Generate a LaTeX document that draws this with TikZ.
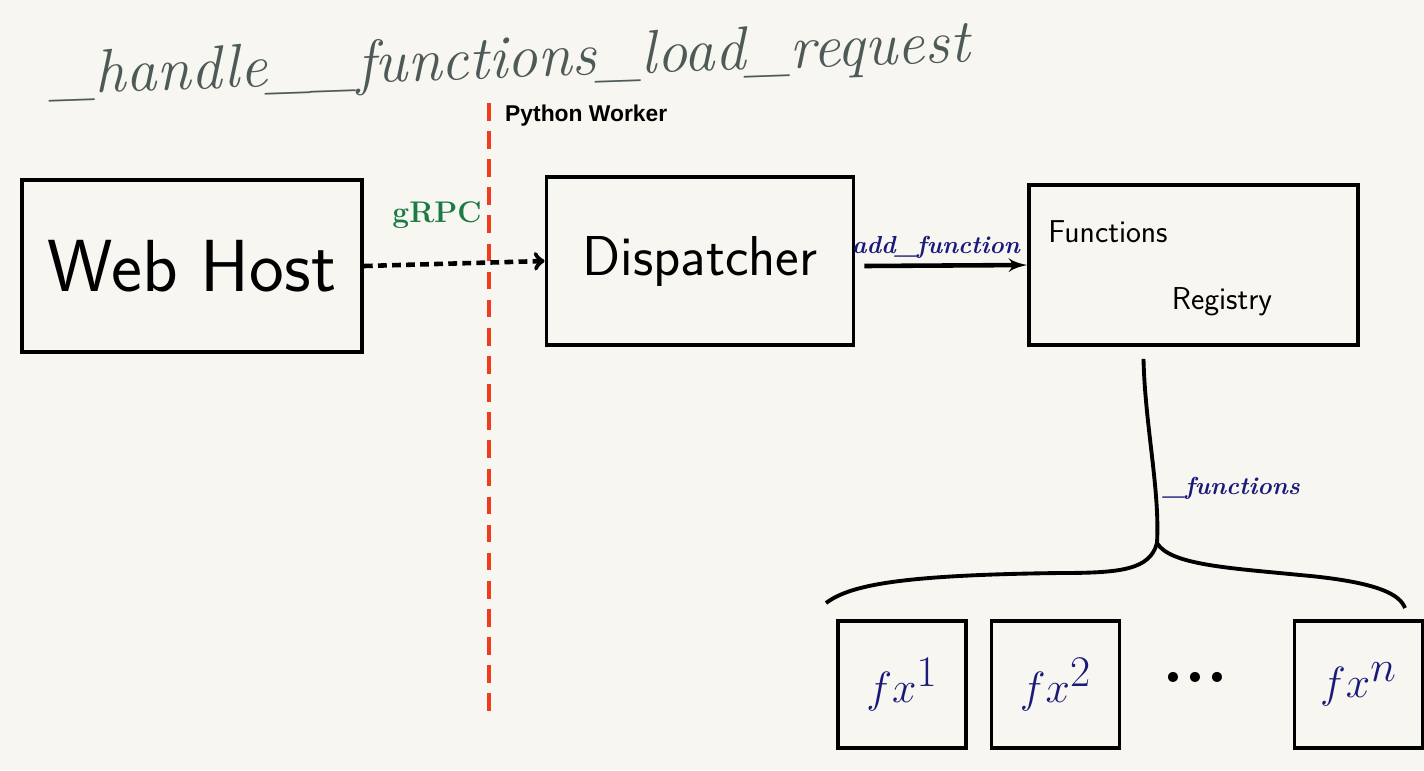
\documentclass[tikz,border=0pt]{standalone}
\usepackage{fontspec}
\newfontfamily\arialfont{Liberation Sans}
\usetikzlibrary{shapes,arrows}
\definecolor{paper}{HTML}{F8F6F1}
\definecolor{pencil}{HTML}{4D5A58}
\definecolor{grpcgreen}{HTML}{1B7B45}
\definecolor{inkblue}{HTML}{1A1A7A}
\definecolor{workerred}{HTML}{F03C1E}
\tikzstyle{block} = [rectangle, draw, line width=2.2pt, text centered, inner sep=0pt, font=\sffamily]
\tikzstyle{fxbox} = [rectangle, draw, line width=2.2pt, minimum width=2.56cm, minimum height=2.54cm, inner sep=0pt, text=inkblue, font=\fontsize{36}{36}\selectfont]
\tikzstyle{line} = [draw, line width=2.6pt, -latex']
\tikzstyle{dashline} = [draw, line width=2.6pt, dash pattern=on 5pt off 3pt, -to]
\tikzstyle{inklabel} = [text=inkblue, font=\itshape\bfseries\fontsize{14}{14}\selectfont]

\begin{document}
\begin{tikzpicture}[node distance=3.07cm,auto]
      \fill [paper] (0,0) rectangle (28.48,-15.4);
      \useasboundingbox (0,0) rectangle (28.48,-15.4);

      % title
      \node [text=pencil, rotate=2, font=\itshape\fontsize{35}{35}\selectfont] (title) at (10.2,-1.25) {\_handle\_\_functions\_load\_request};

      % worker boundary
      \draw [workerred, line width=2pt, dash pattern=on 10pt off 6pt] (9.78,-2.06) -- (9.78,-14.24);
      \node [anchor=west, font=\arialfont\bfseries\fontsize{13}{13}\selectfont] (worker) at (9.98,-2.32) {Python Worker};

      \node [block, minimum width=6.8cm, minimum height=3.44cm, font=\sffamily\fontsize{42}{42}\selectfont] (webhost) at (3.84,-5.32) {Web Host};
      \node [block, minimum width=6.14cm, minimum height=3.36cm, font=\sffamily\fontsize{32}{32}\selectfont] (dispatcher) at (14.0,-5.22) {Dispatcher};
      \node [block, minimum width=6.58cm, minimum height=3.2cm] (registry) at (23.87,-5.3) {};
      \node [anchor=west, font=\sffamily\fontsize{18}{18}\selectfont] (fnlabel) at ([xshift=0.3cm,yshift=0.66cm]registry.west) {Functions};
      \node [font=\sffamily\fontsize{18}{18}\selectfont] (reglabel) at ([xshift=0.57cm,yshift=-0.74cm]registry.center) {Registry};

      \path [dashline] (webhost.east) -- (dispatcher.west);
      \node [text=grpcgreen, font=\bfseries\fontsize{17}{17}\selectfont] (grpc) at (8.74,-4.3) {gRPC};
      \path [line] ([xshift=0.18cm,yshift=-0.1cm]dispatcher.east) -- (registry.west);
      \node [inklabel] (addfn) at (18.72,-4.95) {add\_function};

      % function boxes
      \node [fxbox] (fx1) at (18.04,-13.69) {$fx^1$};
      \node [fxbox, right of=fx1] (fx2) {$fx^2$};
      \node [fxbox, right of=fx2, node distance=6.06cm] (fxn) {$fx^n$};
      \node [font=\bfseries\fontsize{40}{40}\selectfont] (dots) at (23.9,-13.55) {...};

      % brace
      \coordinate (split) at (23.14,-10.86);
      \coordinate (bl) at (16.52,-12.06);
      \coordinate (br) at (28.1,-12.16);
      \draw [line width=2.2pt] ([xshift=-1cm,yshift=-0.24cm]registry.south) .. controls (22.9,-8.5) and (23.2,-9.8) .. (split);
      \draw [line width=2.2pt] (split) .. controls (23.0,-11.4) and (22.4,-11.46) .. (21.2,-11.46) .. controls (18.0,-11.5) and (17.0,-11.7) .. (bl);
      \draw [line width=2.2pt] (split) .. controls (23.4,-11.3) and (24.6,-11.36) .. (26.0,-11.5) .. controls (27.6,-11.64) and (28.0,-11.9) .. (br);
      \node [inklabel, anchor=west] (fnslabel) at (23.15,-9.76) {\_functions};
\end{tikzpicture}
\end{document}
